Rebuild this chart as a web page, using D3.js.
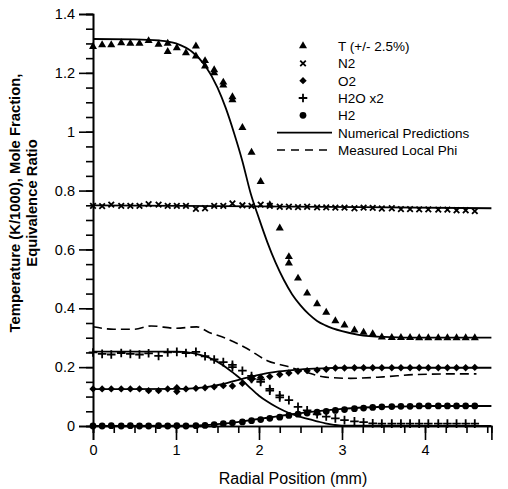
<!DOCTYPE html>
<html>
<head>
<meta charset="utf-8">
<script src="https://cdn.jsdelivr.net/npm/d3@7"></script>
<style>
  body { margin: 0; background: #fff; }
  svg { font-family: Arial, "Liberation Sans", sans-serif; }
</style>
</head>
<body>
<script>
// radial positions of the measured points (mm)
const rPos = [0, 0.11, 0.22, 0.34, 0.45, 0.56, 0.67, 0.79, 0.9, 1.01, 1.12, 1.24, 1.35, 1.46,
  1.57, 1.68, 1.8, 1.91, 2.02, 2.13, 2.25, 2.36, 2.47, 2.58, 2.7, 2.81, 2.92, 3.03, 3.15,
  3.26, 3.37, 3.48, 3.6, 3.71, 3.82, 3.93, 4.04, 4.16, 4.27, 4.38, 4.49, 4.6]

// measured (symbols)
const tempMeas = [1.289, 1.295, 1.295, 1.302, 1.30, 1.30, 1.309, 1.297, 1.30, 1.285, 1.268, 1.291,
  1.241, 1.20, 1.158, 1.108, 1.014, 0.93, 0.83, 0.751, 0.672, 0.575, 0.502, 0.451, 0.415, 0.386,
  0.357, 0.343, 0.326, 0.318, 0.313, 0.302, 0.30, 0.30, 0.30, 0.299, 0.299, 0.299, 0.299, 0.299, 0.299, 0.299]
const tempExtra = [[0.9, 1.272], [1.24, 1.257], [1.35, 1.223], [1.46, 1.21], [1.57, 1.168], [1.68, 1.118], [2.36, 0.553]]
const n2Meas = [0.748, 0.747, 0.752, 0.748, 0.748, 0.748, 0.754, 0.752, 0.748, 0.748, 0.748, 0.738,
  0.740, 0.748, 0.748, 0.756, 0.750, 0.748, 0.752, 0.748, 0.745, 0.745, 0.744, 0.745, 0.743, 0.743,
  0.742, 0.742, 0.740, 0.742, 0.741, 0.739, 0.740, 0.737, 0.737, 0.736, 0.736, 0.735, 0.735, 0.733, 0.733, 0.730]
const o2Meas = [0.126, 0.126, 0.126, 0.126, 0.126, 0.126, 0.12, 0.12, 0.126, 0.13, 0.126, 0.128,
  0.13, 0.133, 0.137, 0.136, 0.145, 0.158, 0.165, 0.168, 0.175, 0.18, 0.186, 0.188, 0.19, 0.193,
  0.197, 0.197, 0.198, 0.198, 0.198, 0.198, 0.198, 0.198, 0.198, 0.198, 0.198, 0.198, 0.198, 0.198, 0.198, 0.199]
const o2Extra = [[1.01, 0.117], [1.91, 0.166]]
const h2oMeas = [0.25, 0.245, 0.243, 0.248, 0.245, 0.243, 0.247, 0.238, 0.25, 0.252, 0.248, 0.252,
  0.237, 0.226, 0.217, 0.208, 0.188, 0.17, 0.158, 0.12, 0.104, 0.088, 0.065, 0.053, 0.04, 0.032,
  0.026, 0.02, 0.016, 0.013, 0.009, 0.008, 0.008, 0.008, 0.008, 0.008, 0.008, 0.008, 0.008, 0.008, 0.008, 0.008]
const h2oExtra = [[1.68, 0.2], [1.91, 0.16], [2.02, 0.15], [2.13, 0.126], [2.25, 0.097]]
const h2Meas = [0, 0, 0.001, 0, 0.001, 0, 0, 0.001, 0, 0.001, 0, 0.001, 0.002, 0.005, 0.008, 0.011,
  0.014, 0.018, 0.022, 0.026, 0.03, 0.036, 0.04, 0.044, 0.047, 0.05, 0.053, 0.056, 0.059, 0.061,
  0.063, 0.065, 0.066, 0.067, 0.067, 0.068, 0.068, 0.068, 0.068, 0.068, 0.068, 0.068]

// numerical predictions (solid)
const tempPredX = [0, 0.5, 0.8, 1.0, 1.2, 1.35, 1.5, 1.6, 1.7, 1.8, 1.9, 2.0, 2.1, 2.2, 2.3, 2.4, 2.5,
  2.6, 2.7, 2.8, 3.0, 3.2, 3.5, 4.0, 4.8]
const tempPredY = [1.315, 1.314, 1.31, 1.30, 1.27, 1.225, 1.15, 1.08, 0.995, 0.90, 0.79, 0.705, 0.625,
  0.555, 0.496, 0.447, 0.41, 0.38, 0.357, 0.342, 0.322, 0.310, 0.303, 0.30, 0.30]
const n2PredX = [0, 2, 4.8]
const n2PredY = [0.750, 0.746, 0.740]
const o2PredX = [0, 1.0, 1.2, 1.4, 1.6, 1.8, 2.0, 2.2, 2.4, 2.6, 2.8, 3.0, 3.5, 4.8]
const o2PredY = [0.125, 0.126, 0.128, 0.134, 0.145, 0.160, 0.174, 0.184, 0.19, 0.194, 0.197, 0.198, 0.198, 0.198]
const h2oPredX = [0, 1.0, 1.2, 1.3, 1.4, 1.5, 1.6, 1.7, 1.8, 1.9, 2.0, 2.1, 2.2, 2.3, 2.4, 2.5, 2.6,
  2.7, 2.8, 2.9, 3.0, 4.8]
const h2oPredY = [0.253, 0.253, 0.248, 0.241, 0.232, 0.218, 0.2, 0.178, 0.155, 0.128, 0.103, 0.083,
  0.066, 0.052, 0.04, 0.031, 0.023, 0.016, 0.009, 0.004, 0.001, 0.0]
const h2PredX = [0, 1.2, 1.4, 1.6, 1.8, 2.0, 2.2, 2.4, 2.6, 2.8, 3.0, 3.2, 3.5, 3.8, 4.2, 4.8]
const h2PredY = [0, 0.001, 0.004, 0.009, 0.016, 0.024, 0.032, 0.040, 0.047, 0.053, 0.058, 0.062, 0.065, 0.067, 0.068, 0.068]

// measured local phi (dashed)
const phiX = [0, 0.25, 0.5, 0.7, 1.0, 1.25, 1.4, 1.6, 1.85, 2.1, 2.35, 2.6, 2.8, 3.1, 3.5, 3.9, 4.3, 4.62]
const phiY = [0.337, 0.329, 0.329, 0.340, 0.332, 0.337, 0.318, 0.298, 0.264, 0.222, 0.202, 0.18,
  0.166, 0.162, 0.167, 0.175, 0.177, 0.177]

const legendLabels = ["T (+/- 2.5%)", "N2", "O2", "H2O x2", "H2", "Numerical Predictions", "Measured Local Phi"]

const width = 508, height = 489

const svg = d3.select("body").append("svg")
  .attr("width", width)
  .attr("height", height)

const x = d3.scaleLinear().domain([0, 4.8]).range([93, 491.4])
const y = d3.scaleLinear().domain([0, 1.4]).range([426, 14])

// axes: minor ticks first, then majors with labels
const xMinor = d3.axisBottom(x).tickValues(d3.range(0, 4.76, 0.25)).tickSize(7).tickFormat("")
const xMajor = d3.axisBottom(x).tickValues([0, 1, 2, 3, 4]).tickSize(14).tickPadding(5).tickFormat(d3.format("d"))
const yMinor = d3.axisLeft(y).tickValues(d3.range(0, 1.401, 0.05)).tickSize(7).tickFormat("")
const yMajor = d3.axisLeft(y).tickValues([0, 0.2, 0.4, 0.6, 0.8, 1, 1.2, 1.4]).tickSize(14).tickPadding(4)
  .tickFormat(d => d === 0 || d === 1 ? d3.format("d")(d) : d3.format(".1f")(d))

function styleAxis(g) {
  g.select(".domain").attr("stroke", "#000").attr("stroke-width", 1.6)
  g.selectAll(".tick line").attr("stroke", "#000").attr("stroke-width", 1.6)
  g.selectAll(".tick text").attr("fill", "#000").style("font-size", "14.5px")
    .style("font-family", "Arial, 'Liberation Sans', sans-serif")
}

svg.append("g").attr("transform", "translate(0,426)").call(xMinor).call(styleAxis)
svg.append("g").attr("transform", "translate(0,426)").call(xMajor).call(styleAxis)
svg.append("g").attr("transform", "translate(93,0)").call(yMinor).call(styleAxis)
svg.append("g").attr("transform", "translate(93,0)").call(yMajor).call(styleAxis)

svg.append("text")
  .attr("x", 293).attr("y", 484)
  .attr("text-anchor", "middle")
  .style("font-size", "16px")
  .text("Radial Position (mm)")

const yTitle = svg.append("text")
  .attr("transform", "translate(20,203) rotate(-90)")
  .attr("text-anchor", "middle")
  .style("font-size", "14.8px")
  .style("font-weight", "bold")
yTitle.append("tspan").attr("x", 0).attr("dy", 0).text("Temperature (K/1000), Mole Fraction,")
yTitle.append("tspan").attr("x", 0).attr("dy", 17).text("Equivalence Ratio")

// lines
const line = d3.line().x(d => x(d[0])).y(d => y(d[1])).curve(d3.curveMonotoneX)
const solid = [
  [tempPredX, tempPredY], [n2PredX, n2PredY], [o2PredX, o2PredY],
  [h2oPredX, h2oPredY], [h2PredX, h2PredY]
]
solid.forEach(function(s) {
  svg.append("path")
    .attr("d", line(d3.zip(s[0], s[1])))
    .attr("fill", "none")
    .attr("stroke", "#000")
    .attr("stroke-width", 1.8)
})
svg.append("path")
  .attr("d", line(d3.zip(phiX, phiY)))
  .attr("fill", "none")
  .attr("stroke", "#000")
  .attr("stroke-width", 1.6)
  .attr("stroke-dasharray", "9,5")

// symbols
const markers = {
  tri: { type: d3.symbolTriangle, size: 28, fill: "#000", stroke: "none", sw: 0, rot: 0 },
  times: { type: d3.symbolTimes, size: 22, fill: "none", stroke: "#000", sw: 1.8, rot: 0 },
  diamond: { type: d3.symbolSquare, size: 27, fill: "#000", stroke: "none", sw: 0, rot: 45 },
  plus: { type: d3.symbolPlus, size: 26, fill: "none", stroke: "#000", sw: 1.8, rot: 0 },
  circle: { type: d3.symbolCircle, size: 36, fill: "#000", stroke: "none", sw: 0, rot: 0 }
}

function drawPoints(pts, m) {
  const mk = markers[m]
  svg.append("g").selectAll("path")
    .data(pts)
    .enter()
    .append("path")
    .attr("transform", d => "translate(" + x(d[0]) + "," + y(d[1]) + ") rotate(" + mk.rot + ")")
    .attr("d", d3.symbol().type(mk.type).size(mk.size))
    .attr("fill", mk.fill)
    .attr("stroke", mk.stroke)
    .attr("stroke-width", mk.sw)
}

drawPoints(d3.zip(rPos, tempMeas).concat(tempExtra), "tri")
drawPoints(d3.zip(rPos, n2Meas), "times")
drawPoints(d3.zip(rPos, o2Meas).concat(o2Extra), "diamond")
drawPoints(d3.zip(rPos, h2oMeas).concat(h2oExtra), "plus")
drawPoints(d3.zip(rPos, h2Meas), "circle")

// legend
const legY = d3.scaleLinear().domain([0, 6]).range([46, 150])
const legMarks = ["tri", "times", "diamond", "plus", "circle"]
const leg = svg.append("g")
legendLabels.forEach(function(lbl, i) {
  const yy = legY(i)
  if (i < 5) {
    const mk = markers[legMarks[i]]
    leg.append("path")
      .attr("transform", "translate(303," + yy + ") rotate(" + mk.rot + ")")
      .attr("d", d3.symbol().type(mk.type).size(mk.size))
      .attr("fill", mk.fill)
      .attr("stroke", mk.stroke)
      .attr("stroke-width", mk.sw)
  } else {
    leg.append("line")
      .attr("x1", 277).attr("x2", 332)
      .attr("y1", yy).attr("y2", yy)
      .attr("stroke", "#000")
      .attr("stroke-width", 1.6)
      .attr("stroke-dasharray", i === 6 ? "8,6" : null)
  }
  leg.append("text")
    .attr("x", 338).attr("y", yy + 5)
    .style("font-size", "13.5px")
    .text(lbl)
})
</script>
</body>
</html>
